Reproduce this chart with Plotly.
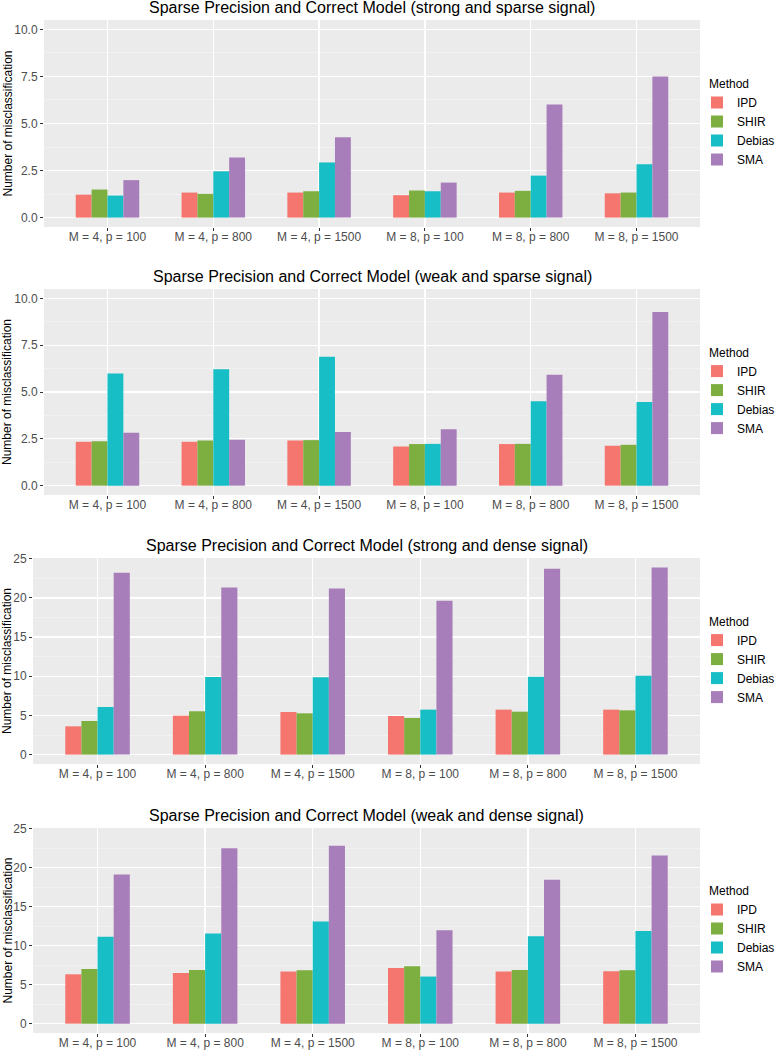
import plotly.graph_objects as go

# ---------------- data ----------------
categories = ["M = 4, p = 100", "M = 4, p = 800", "M = 4, p = 1500",
              "M = 8, p = 100", "M = 8, p = 800", "M = 8, p = 1500"]
methods = ["IPD", "SHIR", "Debias", "SMA"]
method_colors = ["#F5766E", "#7CAE40", "#18BEC5", "#A87EBA"]

titles = [
    "Sparse Precision and Correct Model (strong and sparse signal)",
    "Sparse Precision and Correct Model (weak and sparse signal)",
    "Sparse Precision and Correct Model (strong and dense signal)",
    "Sparse Precision and Correct Model (weak and dense signal)",
]

# panel 1: strong and sparse signal
strong_sparse_ipd = [1.22, 1.33, 1.33, 1.19, 1.33, 1.29]
strong_sparse_shir = [1.49, 1.26, 1.40, 1.44, 1.42, 1.33]
strong_sparse_debias = [1.17, 2.46, 2.93, 1.40, 2.23, 2.84]
strong_sparse_sma = [1.99, 3.19, 4.27, 1.86, 6.01, 7.50]

# panel 2: weak and sparse signal
weak_sparse_ipd = [2.34, 2.34, 2.41, 2.09, 2.22, 2.13]
weak_sparse_shir = [2.37, 2.41, 2.43, 2.22, 2.23, 2.18]
weak_sparse_debias = [5.99, 6.22, 6.88, 2.23, 4.50, 4.47]
weak_sparse_sma = [2.82, 2.45, 2.87, 3.01, 5.92, 9.27]

# panel 3: strong and dense signal
strong_dense_ipd = [3.61, 4.97, 5.44, 4.93, 5.74, 5.74]
strong_dense_shir = [4.29, 5.53, 5.27, 4.68, 5.48, 5.65]
strong_dense_debias = [6.08, 9.91, 9.86, 5.74, 9.95, 10.08]
strong_dense_sma = [23.21, 21.34, 21.22, 19.64, 23.72, 23.89]

# panel 4: weak and dense signal
weak_dense_ipd = [6.33, 6.50, 6.68, 7.14, 6.68, 6.72]
weak_dense_shir = [7.02, 6.89, 6.85, 7.36, 6.89, 6.85]
weak_dense_debias = [11.14, 11.56, 13.10, 6.04, 11.22, 11.90]
weak_dense_sma = [19.13, 22.49, 22.83, 11.99, 18.45, 21.56]

panels = [
    [strong_sparse_ipd, strong_sparse_shir, strong_sparse_debias, strong_sparse_sma],
    [weak_sparse_ipd, weak_sparse_shir, weak_sparse_debias, weak_sparse_sma],
    [strong_dense_ipd, strong_dense_shir, strong_dense_debias, strong_dense_sma],
    [weak_dense_ipd, weak_dense_shir, weak_dense_debias, weak_dense_sma],
]

y_ranges = [[-0.5, 10.5], [-0.5, 10.5], [-1.2, 25.1], [-1.2, 25.1]]
y_dticks = [2.5, 2.5, 5, 5]
y_formats = [".1f", ".1f", "d", "d"]

# ---------------- layout geometry (pixels) ----------------
W, H = 775, 1050
# (left, right, top, bottom) of each panel in pixels
panel_px = [(44, 700, 20, 227), (44, 700, 289, 495), (33, 700, 558, 764), (33, 700, 828, 1033)]

FONT = "Liberation Sans, Arial, sans-serif"
fig = go.Figure()

layout_axes = {}
annotations = []
for k, (vals, (l, r, t, b)) in enumerate(zip(panels, panel_px)):
    idx = "" if k == 0 else str(k + 1)
    xa, ya = "x" + idx, "y" + idx
    leg = "legend" + idx
    for m, col, v in zip(methods, method_colors, vals):
        fig.add_trace(go.Bar(
            x=categories, y=v, name=m, marker=dict(color=col, line=dict(width=0)),
            xaxis=xa, yaxis=ya, legend=leg,
        ))
    layout_axes["xaxis" + idx] = dict(
        domain=[l / W, r / W], anchor=ya, type="category",
        categoryorder="array", categoryarray=categories,
        range=[-0.6, 5.6], showgrid=True, gridcolor="white", gridwidth=1.3,
        ticks="outside", ticklen=3, tickwidth=1, tickcolor="#333333",
        ticklabelstandoff=-4,
        tickfont=dict(family=FONT, size=12, color="#4D4D4D"),
        zeroline=False, showline=False, fixedrange=True,
    )
    layout_axes["yaxis" + idx] = dict(
        domain=[1 - b / H, 1 - t / H], anchor=xa,
        range=y_ranges[k], tick0=0, dtick=y_dticks[k], tickformat=y_formats[k],
        showgrid=True, gridcolor="white", gridwidth=1.3,
        minor=dict(dtick=y_dticks[k] / 2, tick0=0, showgrid=True,
                   gridcolor="#F5F5F5", gridwidth=0.6, ticks=""),
        ticks="outside", ticklen=3, tickwidth=1, tickcolor="#333333",
        tickfont=dict(family=FONT, size=12, color="#4D4D4D"),
        zeroline=False, showline=False, fixedrange=True,
    )
    layout_axes[leg] = dict(
        title=dict(text="\u00a0\u00a0\u00a0Method", font=dict(family=FONT, size=12, color="black")),
        font=dict(family=FONT, size=12, color="black"),
        x=697 / W, xanchor="left", y=1 - ((t + b) / 2) / H, yanchor="middle",
        bgcolor="rgba(0,0,0,0)", borderwidth=0, tracegroupgap=0,
    )
    # panel title
    annotations.append(dict(
        text=titles[k], x=((l + r) / 2) / W, y=1 - (t - 13) / H,
        xref="paper", yref="paper", xanchor="center", yanchor="middle",
        showarrow=False, font=dict(family=FONT, size=16, color="black"),
    ))
    # y-axis title
    annotations.append(dict(
        text="Number of misclassification", x=7 / W, y=1 - ((t + b) / 2) / H,
        xref="paper", yref="paper", xanchor="center", yanchor="middle",
        textangle=-90, showarrow=False, font=dict(family=FONT, size=12, color="black"),
    ))

fig.update_layout(
    width=W, height=H, margin=dict(l=0, r=0, t=0, b=0, autoexpand=False),
    paper_bgcolor="white", plot_bgcolor="#EBEBEB",
    barmode="group", bargap=0.4, bargroupgap=0,
    annotations=annotations, font=dict(family=FONT),
    **layout_axes,
)

fig.write_html(
    "out.html",
    config={"displayModeBar": False, "staticPlot": True},
    post_script="document.body.style.margin='0';document.body.style.padding='0';"
                "document.body.style.overflow='hidden';",
)
